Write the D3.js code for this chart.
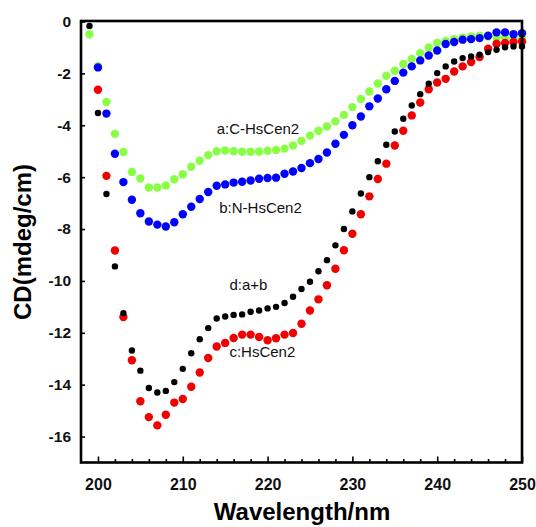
<!DOCTYPE html>
<html><head><meta charset="utf-8">
<script src="https://cdn.jsdelivr.net/npm/d3@7"></script>
<style>body{margin:0;background:#fff}svg{display:block}text{font-family:"Liberation Sans",Arial,sans-serif}</style>
</head><body><svg id="c" width="536" height="527"></svg>
<script>
const wavelengths = d3.range(199, 251);
const seriesA = [-0.49,-1.72,-3.1,-4.33,-5.03,-5.8,-6.05,-6.4,-6.4,-6.32,-6.08,-5.89,-5.6,-5.37,-5.15,-5.0,-4.97,-5.0,-5.02,-5.02,-5.01,-4.98,-4.95,-4.9,-4.78,-4.6,-4.4,-4.21,-4.05,-3.85,-3.6,-3.3,-2.99,-2.7,-2.39,-2.09,-1.9,-1.64,-1.44,-1.22,-1.0,-0.83,-0.75,-0.68,-0.62,-0.58,-0.55,-0.58,-0.62,-0.63,-0.64,-0.64];
const seriesB = [null,-1.77,-3.55,-5.1,-6.19,-6.87,-7.39,-7.71,-7.83,-7.9,-7.74,-7.43,-7.14,-6.84,-6.57,-6.33,-6.28,-6.21,-6.18,-6.13,-6.06,-6.03,-6.02,-5.87,-5.78,-5.65,-5.46,-5.3,-5.05,-4.71,-4.37,-4.0,-3.66,-3.27,-2.97,-2.61,-2.29,-1.97,-1.73,-1.5,-1.31,-1.12,-0.87,-0.79,-0.7,-0.68,-0.64,-0.55,-0.42,-0.42,-0.49,-0.45];
const seriesC = [null,-2.63,-5.95,-8.83,-11.39,-13.06,-14.64,-15.25,-15.57,-15.16,-14.69,-14.55,-14.08,-13.53,-12.97,-12.53,-12.39,-12.2,-12.07,-12.07,-12.16,-12.29,-12.21,-12.07,-12.01,-11.65,-11.14,-10.71,-10.17,-9.53,-8.82,-8.18,-7.43,-6.74,-6.07,-5.48,-4.78,-4.21,-3.62,-3.12,-2.61,-2.35,-2.21,-1.93,-1.73,-1.56,-1.37,-1.05,-0.86,-0.83,-0.79,-0.77];
const seriesD = [-0.17,-3.53,-6.65,-9.44,-11.24,-12.68,-13.46,-14.13,-14.3,-14.24,-13.9,-13.39,-12.79,-12.25,-11.82,-11.45,-11.37,-11.31,-11.29,-11.19,-11.14,-11.06,-11.0,-10.85,-10.61,-10.31,-10.03,-9.63,-9.2,-8.63,-8.0,-7.32,-6.63,-6.0,-5.39,-4.75,-4.24,-3.75,-3.24,-2.8,-2.4,-1.99,-1.73,-1.54,-1.41,-1.35,-1.28,-1.18,-1.09,-0.99,-0.96,-0.96];
const xTicks = [200,210,220,230,240,250];
const yTicks = [0,-2,-4,-6,-8,-10,-12,-14,-16];
const seriesList = [
  {name:"a:C-HsCen2", values:seriesA, color:"#88ff44", r:4.2},
  {name:"b:N-HsCen2", values:seriesB, color:"#0000ff", r:4.2},
  {name:"c:HsCen2", values:seriesC, color:"#f00000", r:4.2},
  {name:"d:a+b", values:seriesD, color:"#000000", r:3.2}
];
const labels = [
  {text:"a:C-HsCen2", x:214, y:-4.35},
  {text:"b:N-HsCen2", x:214.3, y:-7.4},
  {text:"d:a+b", x:215.5, y:-10.35},
  {text:"c:HsCen2", x:215.5, y:-12.95}
];

const svg = d3.select("#c");
const L=81, R=522, T=21.5, B=462.5;
const x = d3.scaleLinear().domain([198,250]).range([L,R]);
const y = d3.scaleLinear().domain([-17,0]).range([B,T]);

// points
seriesList.forEach(s=>{
  svg.append("g").selectAll("circle")
    .data(wavelengths.map((w,i)=>({w, v:s.values[i]})).filter(d=>d.v!==null))
    .join("circle")
    .attr("cx",d=>x(d.w)).attr("cy",d=>y(d.v)).attr("r",s.r).attr("fill",s.color);
});

// axes
const xMinor = svg.append("g").attr("transform",`translate(0,${B})`)
  .call(d3.axisTop(x).tickValues(d3.range(200,250,2).filter(v=>v%10!==0)).tickSize(3.5).tickFormat(""));
const xMajor = svg.append("g").attr("transform",`translate(0,${B})`)
  .call(d3.axisTop(x).tickValues(xTicks).tickSize(6).tickFormat(""));
const xLab = svg.append("g").attr("transform",`translate(0,${B})`)
  .call(d3.axisBottom(x).tickValues(xTicks).tickSize(0).tickPadding(16).tickFormat(d3.format("d")));
const yAx = svg.append("g").attr("transform",`translate(${L},0)`)
  .call(d3.axisRight(y).tickValues(yTicks).tickSize(4).tickFormat(""));
const yLab = svg.append("g").attr("transform",`translate(${L},0)`)
  .call(d3.axisLeft(y).tickValues(yTicks).tickSize(0).tickPadding(10).tickFormat(d=>d));
[xMinor,xMajor,xLab,yAx,yLab].forEach(g=>{
  g.select(".domain").remove();
  g.selectAll("line").attr("stroke","#000").attr("stroke-width",1.6);
});
xLab.selectAll("text").attr("font-size",16).attr("font-weight","bold").attr("fill","#111").attr("font-family",'"Liberation Sans",Arial,sans-serif');
yLab.selectAll("text").attr("font-size",15.5).attr("font-weight","bold").attr("fill","#111").attr("font-family",'"Liberation Sans",Arial,sans-serif');

// frame
svg.append("rect").attr("x",L).attr("y",T-0.5).attr("width",R-L).attr("height",B-T+0.5)
  .attr("fill","none").attr("stroke","#000").attr("stroke-width",2.6);

// annotations
svg.append("g").selectAll("text").data(labels).join("text")
  .attr("x",d=>x(d.x)).attr("y",d=>y(d.y)).attr("font-size",15).attr("fill","#111")
  .text(d=>d.text);

// axis titles
svg.append("text").attr("x",302).attr("y",520).attr("text-anchor","middle")
  .attr("font-size",24).attr("font-weight","bold").text("Wavelength/nm");
svg.append("text").attr("transform","translate(31,242) rotate(-90)").attr("text-anchor","middle")
  .attr("font-size",24).attr("font-weight","bold").text("CD(mdeg/cm)");
</script></body></html>
